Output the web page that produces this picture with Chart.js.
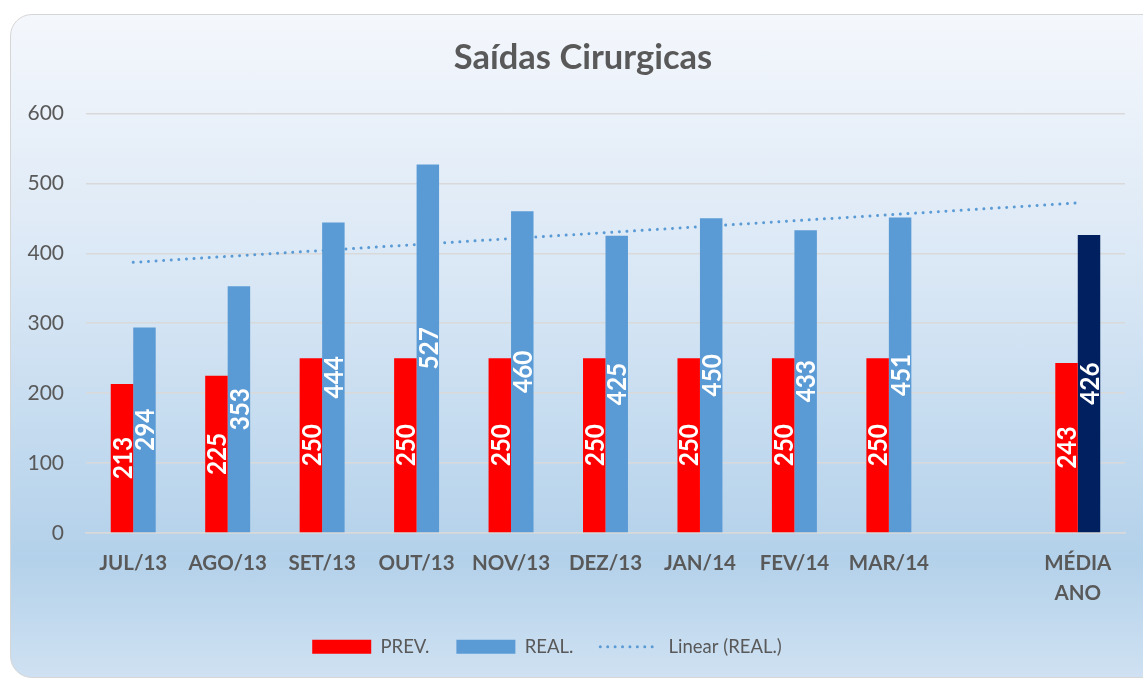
<!DOCTYPE html>
<html><head><meta charset="utf-8">
<script src="https://cdn.jsdelivr.net/npm/chart.js@4.4.0/dist/chart.umd.min.js"></script>
<style>
html,body{margin:0;padding:0;width:1143px;height:678px;overflow:hidden;background:#fff;}
#frame{position:absolute;left:10px;top:14px;width:1160px;height:662px;border:1.5px solid #d6d6d6;border-radius:22px;
background:linear-gradient(to bottom,#f4f7fc 0%,#d9e7f5 40%,#b3d1ea 82%,#cfe1f2 100%);}
#wrap{position:absolute;left:0;top:0;width:1143px;height:678px;}
</style></head>
<body><div id="frame"></div><div id="wrap"><canvas id="c" width="1143" height="678"></canvas></div>
<script>
const categories = ['JUL/13','AGO/13','SET/13','OUT/13','NOV/13','DEZ/13','JAN/14','FEV/14','MAR/14','',['MÉDIA','ANO']];
const prevValues = [213,225,250,250,250,250,250,250,250,null,243];
const realValues = [294,353,444,527,460,425,450,433,451,null,426];
const trendValues = [387,null,null,null,null,null,null,null,null,null,472];
const yTicks = [0,100,200,300,400,500,600];

const FONT = "Lato, 'Open Sans', 'DejaVu Sans', sans-serif";
const GREY = '#595959';
const realColors = realValues.map((v,i)=> i===realValues.length-1 ? '#002060' : '#5b9bd5');

const barLabels = {
  id:'barLabels',
  afterDatasetsDraw(chart){
    const ctx = chart.ctx;
    [0,1].forEach(di=>{
      const meta = chart.getDatasetMeta(di);
      const data = chart.data.datasets[di].data;
      meta.data.forEach((el,i)=>{
        const v = data[i];
        if(v==null) return;
        const cy = (el.y + el.base)/2;
        ctx.save();
        ctx.translate(el.x, cy);
        ctx.rotate(-Math.PI/2);
        ctx.scale(0.9,1);
        ctx.font = "bold 27px " + FONT;
        ctx.fillStyle = '#ffffff';
        ctx.textAlign = 'center';
        ctx.textBaseline = 'middle';
        ctx.fillText(String(v), 0, 1);
        ctx.restore();
      });
    });
  }
};

// shift the title and legend boxes horizontally to match the original frame
const boxShift = {
  id:'boxShift',
  afterLayout(chart){
    if(chart.titleBlock){ chart.titleBlock.left += 41; }
    if(chart.legend){ chart.legend.left -= 31; }
  }
};

new Chart(document.getElementById('c'), {
  data:{
    labels: categories,
    datasets:[
      {type:'bar', label:'PREV.', data:prevValues, backgroundColor:'#ff0000', borderWidth:0,
       categoryPercentage:0.476, barPercentage:1, order:2},
      {type:'bar', label:'REAL.', data:realValues, backgroundColor:realColors, borderWidth:0,
       categoryPercentage:0.476, barPercentage:1, order:3},
      {type:'line', label:'Linear (REAL.)', data:trendValues, spanGaps:true, borderColor:'#5b9bd5',
       backgroundColor:'#5b9bd5', borderWidth:3, borderDash:[0.01,7.6], borderCapStyle:'round',
       pointRadius:0, fill:false, order:1}
    ]
  },
  options:{
    responsive:false,
    animation:false,
    layout:{padding:{left:0,right:18,top:0,bottom:12}},
    plugins:{
      title:{display:true, text:'Saídas Cirurgicas', color:GREY,
        font:{family:FONT, size:34.5, weight:'bold', lineHeight:1.2}, padding:{top:37,bottom:35}},
      legend:{position:'bottom',
        labels:{usePointStyle:true, pointStyleWidth:59, boxHeight:14, color:GREY,
          font:{family:FONT, size:18.5}, padding:27,
          sort:(a,b)=>a.datasetIndex-b.datasetIndex,
          generateLabels(chart){
            const items = Chart.defaults.plugins.legend.labels.generateLabels(chart);
            items.forEach(it=>{
              const i = it.datasetIndex;
              if(i<2){ it.pointStyle='rect'; it.fillStyle = i===0?'#ff0000':'#5b9bd5'; it.strokeStyle='transparent'; it.lineWidth=0; }
              else { it.pointStyle='line'; it.lineWidth=3; it.lineDash=[0.01,7.4]; it.lineCap='round'; it.strokeStyle='#5b9bd5'; }
            });
            return items;
          }}},
      tooltip:{enabled:false}
    },
    scales:{
      x:{
        grid:{display:false},
        border:{display:true, color:'#d9d9d9', width:1.5},
        ticks:{color:GREY, font:{family:FONT, size:20.5, weight:'bold', lineHeight:1.45}, padding:8, maxRotation:0, autoSkip:false},
        afterFit(s){ s.height = 678 - 533 - s.chart.legend.height - 12; }
      },
      y:{
        min:0, max:600,
        afterBuildTicks(s){ s.ticks = yTicks.map(v=>({value:v})); },
        grid:{color:'#d9d9d9', lineWidth:1.5, drawTicks:false},
        border:{display:false},
        ticks:{color:GREY, font:{family:FONT, size:21}, padding:22},
        afterFit(s){ s.width = 86; }
      }
    }
  },
  plugins:[barLabels, boxShift]
});
</script>
</body></html>
